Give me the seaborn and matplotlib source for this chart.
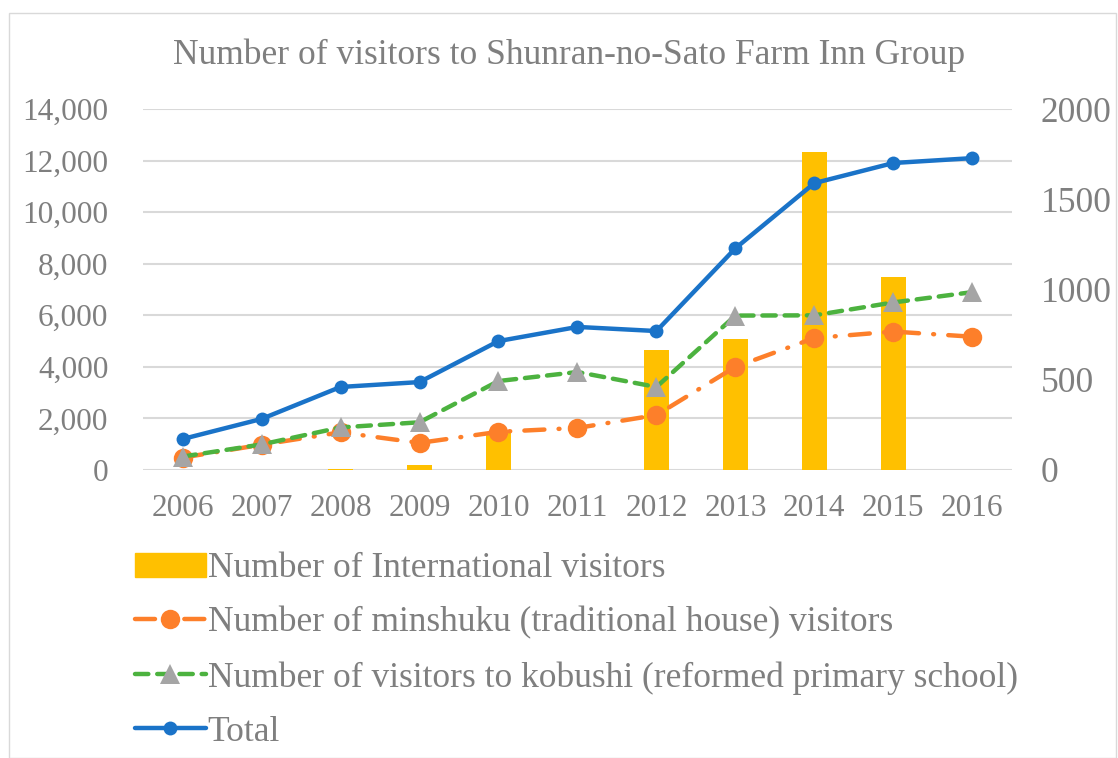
import seaborn as sns
import matplotlib.pyplot as plt
import matplotlib.patches as mpatches
from matplotlib.lines import Line2D
import pandas as pd
import numpy as np

years = ['2006', '2007', '2008', '2009', '2010', '2011', '2012', '2013', '2014', '2015', '2016']
international = [0, 0, 5, 28, 203, 0, 665, 726, 1760, 1067, 0]
minshuku = [480, 980, 1460, 1050, 1480, 1630, 2130, 4000, 5120, 5370, 5170]
kobushi = [520, 990, 1650, 1850, 3450, 3800, 3220, 5990, 6000, 6500, 6900]
total = [1200, 1980, 3220, 3410, 5000, 5550, 5390, 8600, 11130, 11910, 12100]

left_ticks = [0, 2000, 4000, 6000, 8000, 10000, 12000, 14000]
right_ticks = [0, 500, 1000, 1500, 2000]

df = pd.DataFrame({'year': years, 'pos': np.arange(len(years)),
                   'international': international, 'minshuku': minshuku,
                   'kobushi': kobushi, 'total': total})

sns.set_style('white')
plt.rcParams['font.family'] = ['Liberation Serif', 'DejaVu Serif']
grey = '#7f7f7f'
fs_small = 22.5
fs_big = 25.5

fig = plt.figure(figsize=(11.18, 7.58), dpi=100)
ax1 = fig.add_axes([0.128, 0.38, 0.777, 0.476])
ax2 = ax1.twinx()
ax1.set_zorder(ax2.get_zorder() + 1)
ax1.patch.set_visible(False)

# bars on right axis, grid drawn behind them
for t in left_ticks:
    ax2.axhline(t * right_ticks[-1] / left_ticks[-1], color='#d9d9d9', lw=1.5, zorder=0)
sns.barplot(data=df, x='pos', y='international', color='#ffc000', width=0.32,
            saturation=1, edgecolor='none', linewidth=0, ax=ax2, zorder=2)

# lines on left axis
orange_ls = (0, (4.5, 3.2, 0.2, 3.2))
sns.lineplot(data=df, x='pos', y='minshuku', ax=ax1, color='#fd7f2a', lw=3.2,
             linestyle=orange_ls, dash_capstyle='round',
             marker='o', markersize=14, markeredgewidth=0)
sns.lineplot(data=df, x='pos', y='kobushi', ax=ax1, color='#4cb23f', lw=3.2,
             linestyle=(0, (3, 2)), dash_capstyle='round',
             marker='^', markersize=14, markerfacecolor='#a5a5a5', markeredgewidth=0)
sns.lineplot(data=df, x='pos', y='total', ax=ax1, color='#1a73c8', lw=3.2,
             marker='o', markersize=10, markeredgewidth=0)

ax1.set_xlim(-0.5, len(years) - 0.5)
ax1.set_ylim(left_ticks[0], left_ticks[-1])
ax2.set_ylim(right_ticks[0], right_ticks[-1])
ax1.set_yticks(left_ticks)
ax1.set_yticklabels([f'{t:,}' for t in left_ticks])
ax2.set_yticks(right_ticks)
ax1.set_xticks(df['pos'])
ax1.set_xticklabels(years)
for ax in (ax1, ax2):
    ax.set_xlabel('')
    ax.set_ylabel('')
    ax.tick_params(length=0, labelcolor=grey)
    for s in ax.spines.values():
        s.set_visible(False)
ax1.tick_params(axis='both', labelsize=fs_small)
ax2.tick_params(axis='y', labelsize=fs_big, pad=21)
ax1.tick_params(axis='y', pad=25)
ax1.tick_params(axis='x', pad=17)

fig.text(0.509, 0.927, 'Number of visitors to Shunran-no-Sato Farm Inn Group',
         ha='center', va='center', fontsize=fs_big, color=grey)

handles = [
    mpatches.Patch(color='#ffc000'),
    Line2D([], [], color='#fd7f2a', lw=3.2, linestyle=orange_ls,
           dash_capstyle='round', marker='o', markersize=14, markeredgewidth=0),
    Line2D([], [], color='#4cb23f', lw=3.2, linestyle=(0, (3, 2)), dash_capstyle='round',
           marker='^', markersize=14, markerfacecolor='#a5a5a5', markeredgewidth=0),
    Line2D([], [], color='#1a73c8', lw=3.2, marker='o', markersize=10, markeredgewidth=0),
]
labels = ['Number of International visitors',
          'Number of minshuku (traditional house) visitors',
          'Number of visitors to kobushi (reformed primary school)',
          'Total']
leg = fig.legend(handles, labels, loc='upper left', bbox_to_anchor=(0.108, 0.29),
                 frameon=False, fontsize=fs_big, handlelength=2.0, handletextpad=0.05,
                 labelspacing=0.6, borderaxespad=0)
for t in leg.get_texts():
    t.set_color(grey)

fig.patches.append(mpatches.Rectangle((0.008, 0.0), 0.99, 0.983, transform=fig.transFigure,
                                      fill=False, edgecolor='#d9d9d9', lw=1))

fig.savefig('out.png', dpi=100)
